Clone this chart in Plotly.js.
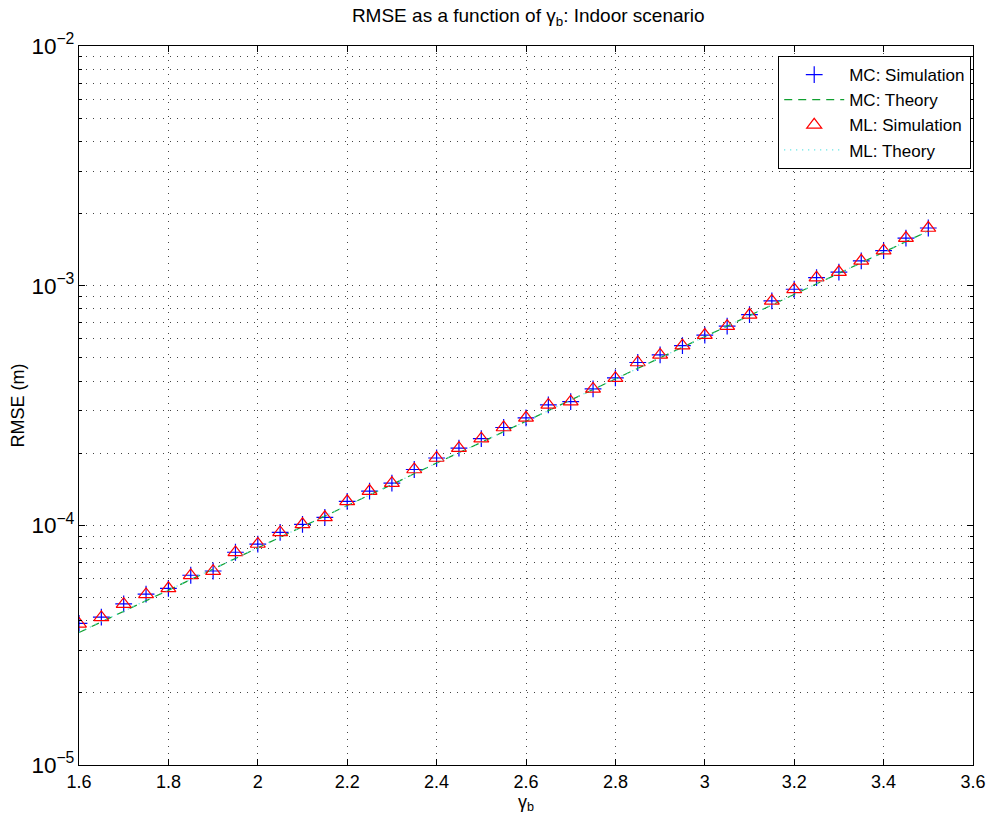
<!DOCTYPE html>
<html>
<head>
<meta charset="utf-8">
<script src="https://cdn.plot.ly/plotly-3.0.1.min.js"></script>
<style>html,body{margin:0;padding:0;background:#fff;}#plot{width:993px;height:823px;}</style>
</head>
<body>
<div id="plot"></div>
<script>
// gamma_b values for simulations
var gammaSim = [1.6,1.65,1.7,1.75,1.8,1.85,1.9,1.95,2.0,2.05,2.1,2.15,2.2,2.25,2.3,2.35,2.4,2.45,2.5,2.55,2.6,2.65,2.7,2.75,2.8,2.85,2.9,2.95,3.0,3.05,3.1,3.15,3.2,3.25,3.3,3.35,3.4,3.45,3.5];
// MC simulation RMSE (m)
var mcSim = [3.9e-5,4.14e-5,4.7e-5,5.16e-5,5.46e-5,6.19e-5,6.45e-5,7.72e-5,8.35e-5,9.35e-5,1.01e-4,1.08e-4,1.26e-4,1.39e-4,1.50e-4,1.71e-4,1.91e-4,2.10e-4,2.30e-4,2.56e-4,2.81e-4,3.18e-4,3.28e-4,3.71e-4,4.12e-4,4.78e-4,5.14e-4,5.62e-4,6.22e-4,6.78e-4,7.57e-4,8.64e-4,9.66e-4,1.08e-3,1.14e-3,1.27e-3,1.40e-3,1.58e-3,1.74e-3];
// ML simulation RMSE (m)
var mlSim = [3.88e-5,4.13e-5,4.69e-5,5.15e-5,5.46e-5,6.18e-5,6.44e-5,7.71e-5,8.36e-5,9.34e-5,1.01e-4,1.08e-4,1.26e-4,1.39e-4,1.50e-4,1.71e-4,1.91e-4,2.10e-4,2.30e-4,2.56e-4,2.81e-4,3.18e-4,3.28e-4,3.71e-4,4.11e-4,4.78e-4,5.14e-4,5.62e-4,6.22e-4,6.78e-4,7.56e-4,8.64e-4,9.65e-4,1.08e-3,1.14e-3,1.27e-3,1.40e-3,1.58e-3,1.74e-3];
// gamma_b values for theory curves
var gammaTh = [1.6,1.7,1.8,1.9,2.0,2.1,2.2,2.3,2.4,2.5,2.6,2.7,2.8,2.9,3.0,3.1,3.2,3.3,3.4,3.5];
// MC theory RMSE (m)
var mcTheory = [3.57e-5,4.38e-5,5.36e-5,6.57e-5,8.05e-5,9.86e-5,1.21e-4,1.48e-4,1.82e-4,2.22e-4,2.72e-4,3.34e-4,4.09e-4,5.01e-4,6.14e-4,7.52e-4,9.22e-4,1.13e-3,1.38e-3,1.69e-3];
// ML theory RMSE (m)
var mlTheory = [3.58e-5,4.39e-5,5.37e-5,6.58e-5,8.06e-5,9.87e-5,1.21e-4,1.48e-4,1.82e-4,2.22e-4,2.72e-4,3.34e-4,4.09e-4,5.01e-4,6.14e-4,7.52e-4,9.22e-4,1.13e-3,1.38e-3,1.69e-3];
var xTicks = [1.6,1.8,2.0,2.2,2.4,2.6,2.8,3.0,3.2,3.4,3.6];
var xTickText = ['1.6','1.8','2','2.2','2.4','2.6','2.8','3','3.2','3.4','3.6'];

var font = 'Liberation Sans, Arial, Helvetica, sans-serif';
var traces = [
  {x: gammaSim, y: mcSim, name: 'MC: Simulation', mode: 'markers', type: 'scatter',
   marker: {symbol: 'cross-thin-open', size: 12, color: '#0000ff', line: {color: '#0000ff', width: 1.2}}},
  {x: gammaTh, y: mcTheory, name: 'MC: Theory', mode: 'lines', type: 'scatter',
   line: {color: '#10a030', width: 1.2, dash: '8px,6px'}},
  {x: gammaSim, y: mlSim, name: 'ML: Simulation', mode: 'markers', type: 'scatter',
   marker: {symbol: 'triangle-up-open', size: 13, color: '#ff0000', line: {color: '#ff0000', width: 1.2}}},
  {x: gammaTh, y: mlTheory, name: 'ML: Theory', mode: 'lines', type: 'scatter',
   line: {color: '#40e0e0', width: 1.2, dash: '1px,5px'}}
];

var gridDash = '1px,6px';
var layout = {
  width: 993, height: 823,
  margin: {l: 79, r: 20, t: 46, b: 58},
  paper_bgcolor: '#fff', plot_bgcolor: '#fff',
  font: {family: font, size: 18, color: '#000'},
  title: {text: 'RMSE as a function of γ<sub>b</sub>: Indoor scenario', font: {family: font, size: 19, color: '#000'},
          x: 0.532, xanchor: 'center', y: 0.981, yanchor: 'middle', yref: 'container'},
  showlegend: true,
  legend: {x: 0.998, xanchor: 'right', y: 0.986, yanchor: 'top', bgcolor: '#fff', bordercolor: '#000', borderwidth: 1,
           font: {family: font, size: 17, color: '#000'}, itemwidth: 60, tracegroupgap: 0},
  xaxis: {range: [1.6, 3.6], tickvals: xTicks, ticktext: xTickText, ticks: 'inside', ticklen: 6, tickcolor: '#000',
          showline: true, linecolor: '#000', linewidth: 1, mirror: 'ticks', zeroline: false,
          showgrid: true, gridcolor: '#444', griddash: gridDash, gridwidth: 1,
          tickfont: {family: font, size: 18},
          title: {text: 'γ<sub>b</sub>', font: {family: font, size: 18}, standoff: 4}},
  yaxis: {type: 'log', range: [-5, -2], dtick: 1, exponentformat: 'power', showexponent: 'all',
          ticks: 'inside', ticklen: 6, tickcolor: '#000',
          showline: true, linecolor: '#000', linewidth: 1, mirror: 'ticks', zeroline: false,
          showgrid: true, gridcolor: '#444', griddash: gridDash, gridwidth: 1,
          minor: {dtick: 'D1', ticks: 'inside', ticklen: 3, tickcolor: '#000', showgrid: true, gridcolor: '#444', griddash: gridDash, gridwidth: 1},
          tickfont: {family: font, size: 18},
          title: {text: 'RMSE (m)', font: {family: font, size: 18}, standoff: 2}}
};
Plotly.newPlot('plot', traces, layout, {displayModeBar: false, staticPlot: true});
</script>
</body>
</html>
